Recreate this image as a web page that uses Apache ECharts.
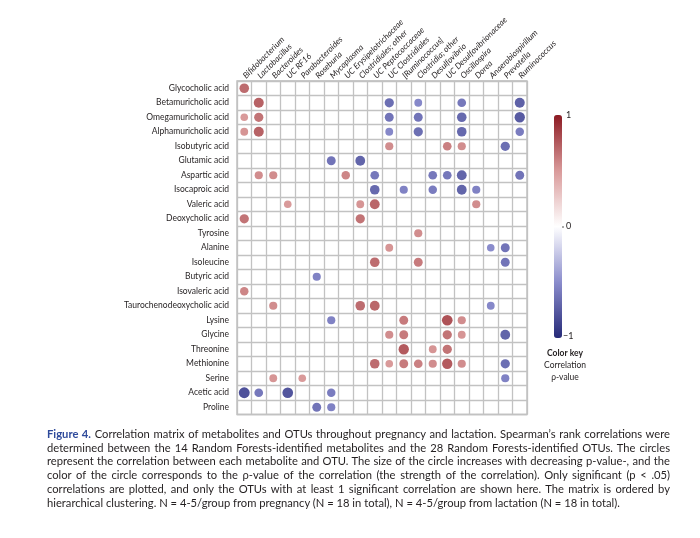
<!DOCTYPE html>
<html>
<head>
<meta charset="utf-8">
<script src="https://cdn.jsdelivr.net/npm/echarts@6/dist/echarts.min.js"></script>
<style>
  html, body { margin: 0; padding: 0; background: #fff; }
  #chart { position: absolute; left: 0; top: 0; width: 700px; height: 538px; }
  #caption { position: absolute; left: 47px; top: 427px; width: 623px;
    font-family: Lato, "Liberation Sans", sans-serif;
    font-size: 11.2px; line-height: 13.7px; color: #231f20; }
  #caption div { white-space: nowrap; }
  #caption b { color: #2e4a9b; }
</style>
</head>
<body>
<div id="chart"></div>
<div id="caption">
  <div><span><b>Figure 4.</b> Correlation matrix of metabolites and OTUs throughout pregnancy and lactation. Spearman’s rank correlations were</span></div>
  <div><span>determined between the 14 Random Forests-identified metabolites and the 28 Random Forests-identified OTUs. The circles</span></div>
  <div><span>represent the correlation between each metabolite and OTU. The size of the circle increases with decreasing p-value-, and the</span></div>
  <div><span>color of the circle corresponds to the ρ-value of the correlation (the strength of the correlation). Only significant (p &lt; .05)</span></div>
  <div><span>correlations are plotted, and only the OTUs with at least 1 significant correlation are shown here. The matrix is ordered by</span></div>
  <div class="last"><span>hierarchical clustering. N = 4-5/group from pregnancy (N = 18 in total), N = 4-5/group from lactation (N = 18 in total).</span></div>
</div>
<script>
// OTUs (columns)
const otus = ["Bifidobacterium", "Lactobacillus", "Bacteroides", "UC RF16", "Parabacteroides",
  "Roseburia", "Mycoplasma", "UC Erysipelotrichaceae", "Clostridiales; other", "UC Peptococcaceae",
  "UC Clostridiales", "[Ruminococcus]", "Clostridia; other", "Desulfovibrio", "UC Desulfovibrionaceae",
  "Oscillospira", "Dorea", "Anaerobiospirillum", "Prevotella", "Ruminococcus"];

// Metabolites (rows, top to bottom)
const metabolites = ["Glycocholic acid", "Betamuricholic acid", "Omegamuricholic acid", "Alphamuricholic acid",
  "Isobutyric acid", "Glutamic acid", "Aspartic acid", "Isocaproic acid", "Valeric acid", "Deoxycholic acid",
  "Tyrosine", "Alanine", "Isoleucine", "Butyric acid", "Isovaleric acid", "Taurochenodeoxycholic acid",
  "Lysine", "Glycine", "Threonine", "Methionine", "Serine", "Acetic acid", "Proline"];

// Significant correlations: [otu index, metabolite index, rho]
const correlations = [
  [0, 0, 0.68],
  [1, 1, 0.72], [10, 1, -0.65], [12, 1, -0.52], [15, 1, -0.60], [19, 1, -0.72],
  [0, 2, 0.50], [1, 2, 0.65], [10, 2, -0.62], [12, 2, -0.62], [15, 2, -0.68], [19, 2, -0.75],
  [0, 3, 0.52], [1, 3, 0.72], [10, 3, -0.52], [12, 3, -0.65], [15, 3, -0.68], [19, 3, -0.58],
  [10, 4, 0.55], [14, 4, 0.60], [15, 4, 0.55], [18, 4, -0.65],
  [6, 5, -0.62], [8, 5, -0.70],
  [1, 6, 0.55], [2, 6, 0.55], [7, 6, 0.58], [9, 6, -0.60], [13, 6, -0.60], [14, 6, -0.60], [15, 6, -0.70], [19, 6, -0.62],
  [9, 7, -0.68], [11, 7, -0.55], [13, 7, -0.58], [15, 7, -0.70], [16, 7, -0.55],
  [3, 8, 0.50], [8, 8, 0.52], [9, 8, 0.70], [16, 8, 0.55],
  [0, 9, 0.65], [8, 9, 0.65],
  [12, 10, 0.55],
  [10, 11, 0.52], [17, 11, -0.50], [18, 11, -0.62],
  [9, 12, 0.68], [12, 12, 0.62], [18, 12, -0.62],
  [5, 13, -0.55],
  [0, 14, 0.58],
  [2, 15, 0.55], [8, 15, 0.68], [9, 15, 0.70], [17, 15, -0.52],
  [6, 16, -0.55], [11, 16, 0.62], [14, 16, 0.78], [15, 16, 0.55],
  [10, 17, 0.55], [11, 17, 0.62], [14, 17, 0.65], [15, 17, 0.52], [18, 17, -0.70],
  [11, 18, 0.75], [13, 18, 0.52], [14, 18, 0.65],
  [9, 19, 0.68], [10, 19, 0.50], [11, 19, 0.62], [12, 19, 0.60], [13, 19, 0.55], [14, 19, 0.75], [15, 19, 0.55], [18, 19, -0.65],
  [2, 20, 0.52], [4, 20, 0.50], [18, 20, -0.55],
  [0, 21, -0.80], [1, 21, -0.60], [3, 21, -0.78], [6, 21, -0.58],
  [5, 22, -0.62], [6, 22, -0.55]
];

const keyTicks = ["1", "0", "−1"];

// Justify caption lines by adjusting word spacing
(function () {
  const target = 623;
  document.querySelectorAll('#caption div').forEach(function (d) {
    if (d.classList.contains('last')) return;
    const span = d.querySelector('span');
    const w = span.getBoundingClientRect().width;
    const spaces = (span.textContent.match(/ /g) || []).length;
    if (spaces > 0) span.style.wordSpacing = ((target - w) / spaces) + 'px';
  });
})();

const chart = echarts.init(document.getElementById('chart'), null, { renderer: 'canvas' });
const FONT = 'Lato, "Liberation Sans", sans-serif';
const cell = 14.5;
const gLeft = 237, gTop = 81;

chart.setOption({
  animation: false,
  backgroundColor: '#fff',
  grid: {
    left: gLeft, top: gTop, width: cell * otus.length, height: cell * metabolites.length,
    show: true, borderColor: '#b8b8b8', borderWidth: 1.3
  },
  xAxis: {
    type: 'category', data: otus, position: 'top',
    axisLine: { show: false }, axisTick: { show: false },
    splitLine: { show: true, interval: 0, lineStyle: { color: '#c2c2c2', width: 1.3 } },
    axisLabel: {
      interval: 0, rotate: -45, margin: 4, fontSize: 8.3, fontStyle: 'italic',
      fontFamily: FONT, color: '#231f20'
    }
  },
  yAxis: {
    type: 'category', data: metabolites, inverse: true,
    axisLine: { show: false }, axisTick: { show: false },
    splitLine: { show: true, interval: 0, lineStyle: { color: '#c2c2c2', width: 1.3 } },
    axisLabel: { interval: 0, margin: 8, fontSize: 8.5, fontFamily: FONT, color: '#231f20' }
  },
  visualMap: {
    type: 'continuous', min: -1, max: 1, dimension: 2, seriesIndex: 0,
    show: true, calculable: false, left: 554, top: 115, padding: 0,
    itemWidth: 8, itemHeight: 223, text: null,
    inRange: { color: ['#262a78', '#8a8ccc', '#ffffff', '#d99a9a', '#8c1a22'] }
  },
  series: [{
    type: 'scatter',
    data: correlations,
    symbol: 'circle',
    symbolSize: function (v) { return 7.6 + (Math.abs(v[2]) - 0.5) * 11; },
    itemStyle: { opacity: 1 }
  }],
  graphic: [
    { type: 'line', shape: { x1: 562, y1: 227, x2: 564, y2: 227 }, style: { stroke: '#555', lineWidth: 1 } },
    { type: 'text', left: 566, top: 111, style: { text: keyTicks[0], font: '9px ' + FONT, fill: '#231f20' } },
    { type: 'text', left: 566, top: 222, style: { text: keyTicks[1], font: '9px ' + FONT, fill: '#231f20' } },
    { type: 'text', left: 563, top: 332, style: { text: keyTicks[2], font: '9px ' + FONT, fill: '#231f20' } },
    { type: 'text', x: 565, y: 349, style: { text: 'Color key', font: 'bold 8.5px ' + FONT, fill: '#231f20', align: 'center' } },
    { type: 'text', x: 565, y: 361, style: { text: 'Correlation', font: '8.5px ' + FONT, fill: '#231f20', align: 'center' } },
    { type: 'text', x: 565, y: 373, style: { text: 'ρ-value', font: '8.5px ' + FONT, fill: '#231f20', align: 'center' } }
  ]
});
</script>
</body>
</html>
